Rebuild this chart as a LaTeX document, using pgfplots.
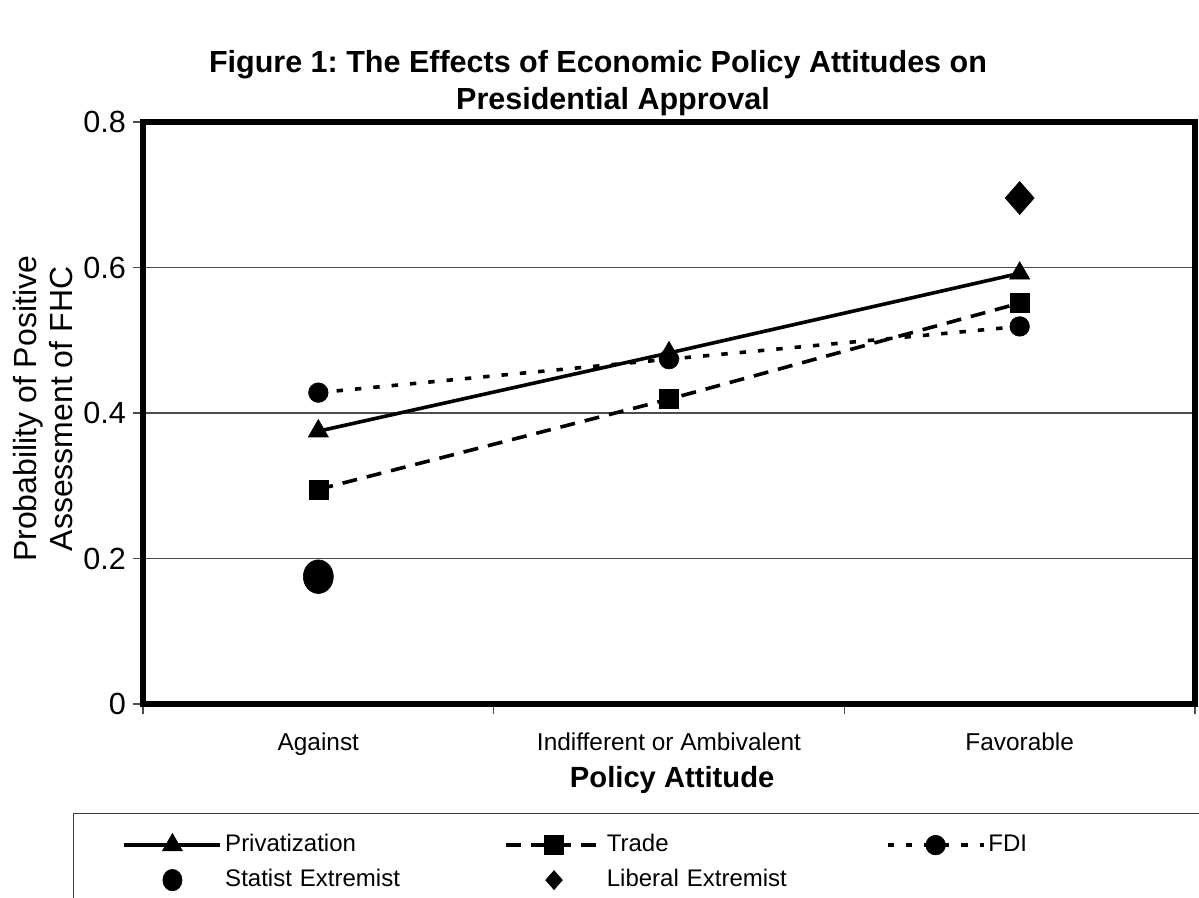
\documentclass[border=0pt]{standalone}
\usepackage{fontspec}
\setmainfont{Liberation Sans}
\usepackage{pgfplots}
\pgfplotsset{compat=1.18}
\frenchspacing
\begin{document}
\begin{tikzpicture}
\begin{axis}[
  at={(71.5bp,97bp)}, anchor=south west,
  width=526bp, height=291bp, scale only axis,
  xmin=0, xmax=3, ymin=0, ymax=0.8,
  axis line style={black, line width=3bp},
  xtick pos=bottom, ytick pos=left,
  tick align=outside, major tick length=5bp,
  tick style={black!70, line width=0.6bp},
  xtick={0,1,2,3}, xticklabels={},
  extra x ticks={0.5,1.5,2.5},
  extra x tick labels={Against, Indifferent or Ambivalent, Favorable},
  extra x tick style={major tick length=0pt, xticklabel style={yshift=-11bp}},
  xticklabel style={font=\fontsize{12.2bp}{14bp}\selectfont},
  ytick={0,0.2,0.4,0.6,0.8},
  yticklabel style={font=\fontsize{15.3bp}{18bp}\selectfont, /pgf/number format/fixed, /pgf/number format/precision=1},
  /pgf/number format/assume math mode=true,
  ymajorgrids, major grid style={black!70, line width=0.6bp},
  xlabel={Policy Attitude},
  xlabel style={at={(axis description cs:0.503,-0.13)}, anchor=center, font=\bfseries\fontsize{14.6bp}{17bp}\selectfont},
  ylabel={Probability of Positive\\Assessment of FHC},
  ylabel style={at={(axis description cs:-0.095,0.507)}, anchor=center, align=center, font=\fontsize{16bp}{18bp}\selectfont},
  legend columns=3,
  legend cell align=left,
  legend image code/.code={\draw[mark repeat=2,mark phase=2,#1] plot coordinates {(0bp,0bp)(24bp,0bp)(48bp,0bp)};},
  legend style={at={(axis description cs:-0.0665,-0.1873)}, anchor=north west, draw=black!75, line width=0.6bp,
    inner xsep=24.5bp, inner ysep=7bp, font=\fontsize{12bp}{14bp}\selectfont,
    /tikz/every odd column/.append style={column sep=1.5bp},
    /tikz/every even column/.append style={column sep=0pt},
    nodes={inner xsep=0pt, inner ysep=0pt, text height=12bp, text depth=5.5bp, text width=139.5bp}},
]
\addplot[black, line width=1.8bp, mark=triangle*, mark size=5.8bp, mark options={solid, line width=0.3bp}]
  coordinates {(0.5,0.375) (1.5,0.4825) (2.5,0.592)};
\addlegendentry{Privatization}
\addplot[black, line width=1.8bp, dash pattern=on 7.5bp off 5bp, mark=square*, mark size=4.75bp, mark options={solid, line width=0.3bp}]
  coordinates {(0.5,0.295) (1.5,0.419) (2.5,0.551)};
\addlegendentry{Trade}
\addplot[black, line width=1.8bp, dash pattern=on 3.2bp off 6bp, mark=*, mark size=4.9bp, mark options={solid, line width=0.3bp}]
  coordinates {(0.5,0.428) (1.5,0.474) (2.5,0.519)};
\addlegendentry{FDI}
\addplot[black, only marks, mark=*, mark size=7.5bp, mark options={yscale=1.12, line width=0.3bp}, legend image post style={mark size=4.8bp}]
  coordinates {(0.5,0.175)};
\addlegendentry{Statist Extremist}
\addplot[black, only marks, mark=diamond*, mark size=8.25bp, mark options={xscale=1.17, line width=0.3bp}, legend image post style={mark size=4.75bp}]
  coordinates {(2.5,0.6955)};
\addlegendentry{Liberal Extremist}
\end{axis}
\node[anchor=base, font=\bfseries\fontsize{15.25bp}{18bp}\selectfont] at (299bp,412.5bp) {Figure 1: The Effects of Economic Policy Attitudes on};
\node[anchor=base, font=\bfseries\fontsize{15.25bp}{18bp}\selectfont] at (306.5bp,394bp) {Presidential Approval};
\pgfresetboundingbox
\useasboundingbox (0,0) rectangle (599.5bp,449bp);
\end{tikzpicture}
\end{document}
